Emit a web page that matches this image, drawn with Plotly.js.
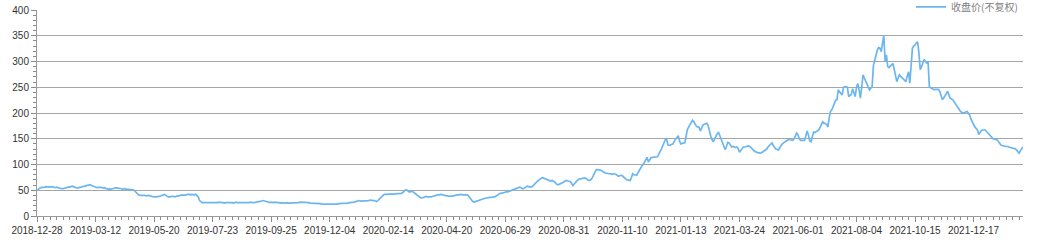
<!DOCTYPE html>
<html>
<head>
<meta charset="utf-8">
<script src="https://cdn.plot.ly/plotly-3.0.1.min.js"></script>
<style>html,body{margin:0;padding:0;background:#fff;}#chart{width:1038px;height:246px;}</style>
</head>
<body>
<div id="chart"></div>
<script>
// x-axis tick labels (one every 45 trading days)
const tickLabels = ['2018-12-28','2019-03-12','2019-05-20','2019-07-23','2019-09-25','2019-12-04','2020-02-14','2020-04-20','2020-06-29','2020-08-31','2020-11-10','2021-01-13','2021-03-24','2021-06-01','2021-08-04','2021-10-15','2021-12-17'];
const tradingDaysPerLabel = 45;
const seriesName = '收盘价(不复权)';

// daily close prices (unadjusted), one per trading day from 2018-12-28
const closePrice = [
49,52,54,55,55,56,56,57,56,56,57,56,57,56,55,56,55,54,54,53,53,54,55,55,56,56,57,58,57,56,55,54,55,55,56,57,57,58,59,60,60,61,59,58,57,
56,55,56,55,56,55,54,55,53,53,52,53,52,53,54,55,55,54,54,53,53,52,53,52,52,51,52,52,51,51,49,46,43,41,40,40,41,40,40,39,40,40,39,38,38,
37,37,37,38,38,39,40,41,42,40,38,37,37,38,38,38,37,38,38,39,40,41,41,40,41,41,42,42,41,42,41,41,42,40,37,30,27,26,26,26,25,26,26,26,25,
26,26,25,26,26,27,26,26,26,25,26,26,27,26,26,26,25,26,27,26,26,25,25,25,26,26,25,26,26,27,26,26,26,27,27,28,28,29,29,30,29,28,27,27,26,
27,26,26,27,26,26,26,25,26,25,25,25,26,25,25,25,26,25,25,26,26,26,27,27,26,27,26,26,26,26,25,25,25,24,25,24,24,24,24,23,23,22,22,22,22,
22,22,23,22,22,23,23,24,24,24,25,24,25,25,25,26,26,26,27,27,28,29,29,30,29,29,30,29,30,30,30,31,31,31,30,29,28,30,33,36,38,40,42,42,41,
42,43,42,43,42,43,43,44,43,43,44,45,48,50,51,49,47,47,48,47,45,42,40,38,36,35,35,36,38,38,37,37,36,37,38,39,39,40,41,41,42,42,41,40,39,
39,39,38,39,38,39,40,40,41,41,42,42,41,41,42,41,41,38,34,30,28,27,28,28,29,30,31,33,34,34,35,35,36,36,36,37,37,37,39,41,43,44,44,45,46,
46,47,47,48,49,50,51,52,53,54,55,56,55,53,53,55,57,58,57,56,56,58,61,64,66,68,70,72,74,74,73,71,70,69,69,68,69,68,66,63,61,61,62,63,64,
66,68,69,68,67,67,63,59,62,66,68,70,72,72,73,73,74,73,71,69,69,71,75,80,86,90,90,90,89,88,86,84,83,83,82,82,82,81,82,82,81,79,77,78,79,
78,75,72,71,70,69,69,75,82,80,79,79,84,89,93,97,100,105,111,114,105,109,113,114,114,115,114,115,120,124,130,136,142,148,150,138,137,138,139,140,146,150,154,156,145,
140,141,141,142,155,168,173,177,182,186,183,178,174,173,172,165,170,177,178,179,180,175,162,155,148,144,150,157,160,162,155,146,141,135,129,135,143,142,138,134,135,134,133,134,131,
124,127,131,134,134,135,136,136,135,133,130,127,125,124,123,122,122,123,125,127,128,130,134,137,140,142,137,132,130,129,128,133,137,140,142,144,146,148,149,148,147,147,150,156,161,
158,150,147,147,148,147,155,165,158,146,144,155,163,162,164,166,167,172,178,183,180,180,178,173,190,203,206,212,218,225,226,245,241,237,235,250,251,251,250,232,234,236,247,240,232,
250,257,245,229,250,274,268,262,257,250,245,248,251,292,303,312,322,327,326,319,340,351,300,313,290,288,291,293,296,285,270,261,268,274,271,268,267,264,261,272,280,258,300,326,330,
332,336,338,316,284,290,297,304,300,297,300,251,249,248,247,245,246,246,246,242,234,226,229,232,237,242,235,229,227,226,222,218,213,209,205,203,201,200,201,202,203,200,196,188,182,
177,173,170,167,158,162,166,167,167,167,164,161,158,155,151,150,149,148,148,145,141,138,137,136,136,135,135,134,133,133,132,131,131,128,124,122,127,130,134
];

const dayIndex = closePrice.map((_, i) => i);
const tickVals = tickLabels.map((_, i) => i * tradingDaysPerLabel);

const trace = {
  x: dayIndex,
  y: closePrice,
  type: 'scatter',
  mode: 'lines',
  name: seriesName,
  line: {color: '#6cb6f0', width: 1.7},
  hoverinfo: 'y'
};

const layout = {
  width: 1038,
  height: 246,
  margin: {l: 37, r: 15, t: 10, b: 30, autoexpand: false},
  paper_bgcolor: '#ffffff',
  plot_bgcolor: '#ffffff',
  font: {family: 'Liberation Sans, Arial, sans-serif', size: 10, color: '#333'},
  showlegend: true,
  legend: {
    x: 1.0, xanchor: 'right', y: 1.015, yanchor: 'middle',
    orientation: 'h', bgcolor: 'rgba(0,0,0,0)',
    font: {family: 'Noto Sans CJK SC, sans-serif', size: 10, color: '#808080'},
    itemwidth: 30, tracegroupgap: 0
  },
  xaxis: {
    range: [0, closePrice.length - 1],
    tickmode: 'array',
    tickvals: tickVals,
    ticktext: tickLabels,
    ticks: 'outside', ticklen: 5, tickcolor: '#8a8a8a', tickwidth: 1,
    showline: true, linecolor: '#9a9a9a', linewidth: 1,
    showgrid: false, zeroline: false,
    minor: {tickmode: 'linear', tick0: 0, dtick: 5, ticks: 'outside', ticklen: 3, tickcolor: '#8a8a8a', showgrid: false},
    tickfont: {size: 10, color: '#333'},
    fixedrange: true
  },
  yaxis: {
    range: [0, 400],
    tickmode: 'linear', tick0: 0, dtick: 50,
    ticks: 'outside', ticklen: 5, tickcolor: '#8a8a8a', tickwidth: 1,
    showline: true, linecolor: '#9a9a9a', linewidth: 1,
    showgrid: true, gridcolor: '#a6a6a6', gridwidth: 1,
    zeroline: false,
    minor: {tickmode: 'linear', tick0: 0, dtick: 10, ticks: 'outside', ticklen: 3, tickcolor: '#8a8a8a', showgrid: false},
    tickfont: {size: 10, color: '#333'},
    fixedrange: true
  }
};

Plotly.newPlot('chart', [trace], layout, {displayModeBar: false, staticPlot: true});
</script>
</body>
</html>
